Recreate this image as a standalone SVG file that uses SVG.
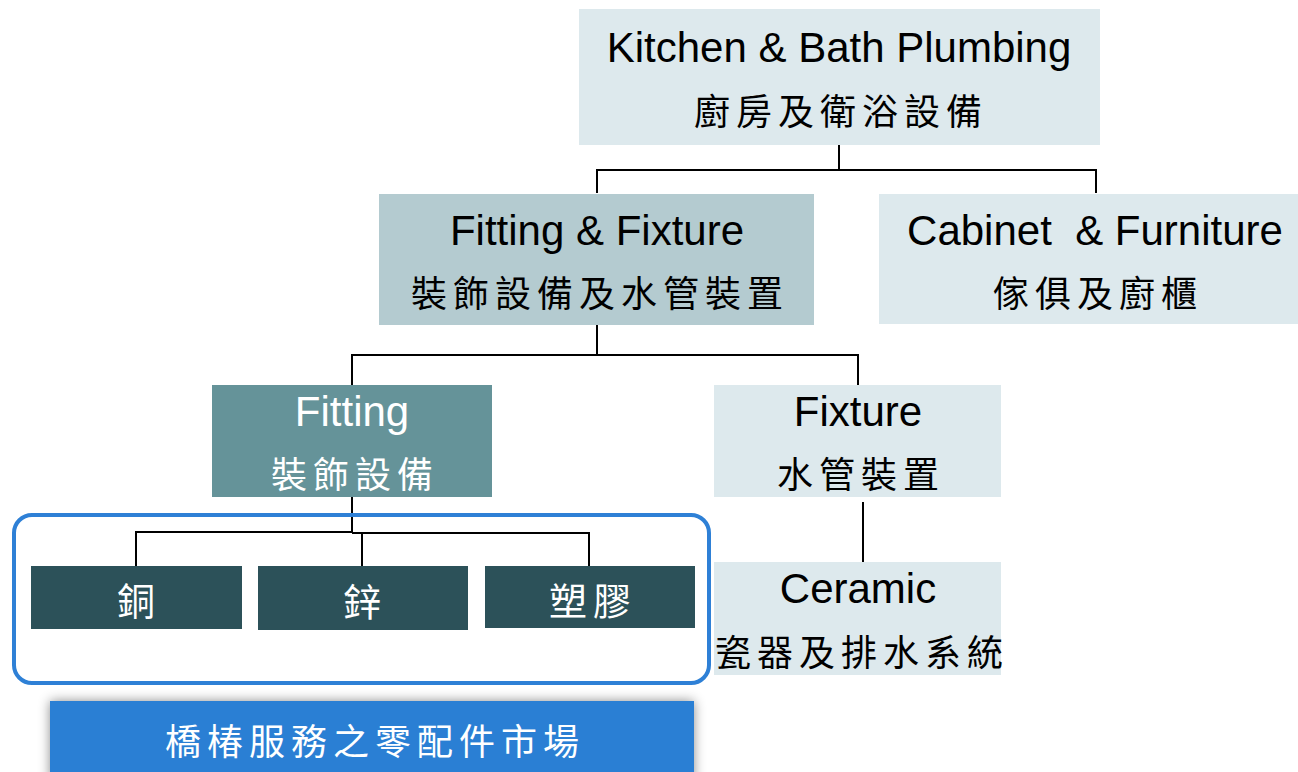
<svg xmlns="http://www.w3.org/2000/svg" width="1298" height="772" viewBox="0 0 1298 772">
<style>
.en{font-family:"Liberation Sans",Arial,sans-serif;font-size:42px;text-anchor:middle;fill:#000}
.cj{font-family:"Noto Sans CJK TC","Noto Sans CJK SC",sans-serif;font-size:36px;text-anchor:middle;letter-spacing:6px;fill:#000}
.big{font-size:38px}
.w{fill:#fff}
.light{fill:#dde9ed}
.mid{fill:#b4cbd0}
.teal{fill:#659399}
.dark{fill:#2c5159}
.ln{stroke:#000;stroke-width:2;fill:none}
</style>
<defs>
<filter id="sh" x="-10%" y="-40%" width="120%" height="180%">
<feDropShadow dx="0" dy="0" stdDeviation="6" flood-color="#000" flood-opacity="0.45"/>
</filter>
</defs>
<rect width="1298" height="772" fill="#fff"/>
<g id="connectors">
<path class="ln" d="M839,145 V170 M597,193 V170 H1096 V193"/>
<path class="ln" d="M597,325 V355 M352,385 V355 H858 V385"/>
<path class="ln" d="M863,502 V563"/>
<path class="ln" d="M352,497 V532" stroke-width="3"/>
<path class="ln" d="M136,566 V532 H352 M352,533 H589 V566 M362,533 V566"/>
</g>
<g id="market-frame">
<rect x="14" y="515" width="695" height="168" rx="18" ry="18" fill="none" stroke="#2e80d6" stroke-width="4"/>
</g>
<g id="node-kitchen">
<rect class="light" x="579" y="9" width="521" height="136"/>
<text class="en" x="839" y="62">Kitchen &amp; Bath Plumbing</text>
<text class="cj" x="841" y="125">廚房及衛浴設備</text>
</g>
<g id="node-fitting-fixture">
<rect class="mid" x="379" y="194" width="435" height="131"/>
<text class="en" x="597" y="245">Fitting &amp; Fixture</text>
<text class="cj" x="600" y="307">裝飾設備及水管裝置</text>
</g>
<g id="node-cabinet">
<rect class="light" x="879" y="194" width="419" height="130"/>
<text class="en" x="1095" y="245" xml:space="preserve" style="white-space:pre">Cabinet  &amp; Furniture</text>
<text class="cj" x="1098" y="307">傢俱及廚櫃</text>
</g>
<g id="node-fitting">
<rect class="teal" x="212" y="385" width="280" height="112"/>
<text class="en w" x="352" y="426">Fitting</text>
<text class="cj w" x="355" y="488">裝飾設備</text>
</g>
<g id="node-fixture">
<rect class="light" x="714" y="385" width="287" height="112"/>
<text class="en" x="858" y="426">Fixture</text>
<text class="cj" x="861" y="488">水管裝置</text>
</g>
<g id="node-ceramic">
<rect class="light" x="714" y="562" width="287" height="113"/>
<text class="en" x="858" y="603">Ceramic</text>
<text class="cj" x="862" y="666">瓷器及排水系統</text>
</g>
<g id="node-copper">
<rect class="dark" x="31" y="566" width="211" height="63"/>
<text class="cj big w" x="139" y="615">銅</text>
</g>
<g id="node-zinc">
<rect class="dark" x="258" y="566" width="210" height="64"/>
<text class="cj big w" x="365" y="616">鋅</text>
</g>
<g id="node-plastic">
<rect class="dark" x="485" y="566" width="210" height="62"/>
<text class="cj big w" x="593" y="615">塑膠</text>
</g>
<g id="node-market">
<rect x="50" y="701" width="644" height="80" fill="#2b7fd4" filter="url(#sh)"/>
<text class="cj w" x="375" y="755">橋椿服務之零配件市場</text>
</g>
</svg>
